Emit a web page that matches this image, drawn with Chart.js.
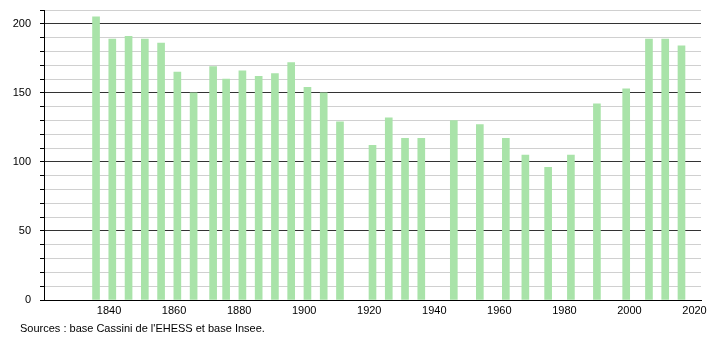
<!DOCTYPE html>
<html>
<head>
<meta charset="utf-8">
<script src="https://cdn.jsdelivr.net/npm/chart.js@4/dist/chart.umd.min.js"></script>
<style>
  html, body { margin: 0; padding: 0; background: #fff; }
  #wrap { width: 710px; height: 340px; position: relative; }
</style>
</head>
<body>
<div id="wrap"><canvas id="chart"></canvas></div>
<script>
// --- Données ---
const years = [1836, 1841, 1846, 1851, 1856, 1861, 1866, 1872, 1876, 1881, 1886, 1891, 1896, 1901, 1906, 1911,
               1921, 1926, 1931, 1936, 1946, 1954, 1962, 1968, 1975, 1982, 1990, 1999, 2006, 2011, 2016];
const population = [205, 189, 191, 189, 186, 165, 150, 169, 160, 166, 162, 164, 172, 154, 150, 129,
                     112, 132, 117, 117, 130, 127, 117, 105, 96, 105, 142, 153, 189, 189, 184];
const xTickYears = [1840, 1860, 1880, 1900, 1920, 1940, 1960, 1980, 2000, 2020];
const yLabels = [0, 50, 100, 150, 200];
const sourceText = "Sources : base Cassini de l'EHESS et base Insee.";

const points = years.map((y, i) => ({ x: y, y: population[i] }));

const footer = {
    id: 'footer',
    afterDraw(chart) {
        const ctx = chart.ctx;
        ctx.save();
        ctx.font = '11px "Liberation Sans", Arial, sans-serif';
        ctx.fillStyle = '#000';
        ctx.textBaseline = 'middle';
        ctx.fillText(sourceText, 20, 329);
        ctx.restore();
    }
};

new Chart(document.getElementById('chart').getContext('2d'), {
    type: 'bar',
    data: { datasets: [{ data: points, backgroundColor: '#a9e3a9', barThickness: 7, borderWidth: 0 }] },
    options: {
        responsive: true,
        maintainAspectRatio: false,
        animation: false,
        layout: { padding: { left: 0, right: 9, top: 10, bottom: 0 } },
        plugins: { legend: { display: false }, tooltip: { enabled: false } },
        scales: {
            x: {
                type: 'linear',
                offset: false,
                min: 1820,
                max: 2022,
                afterBuildTicks: (axis) => { axis.ticks = xTickYears.map(v => ({ value: v })); },
                afterFit: (axis) => { axis.height = 40; axis.paddingLeft = 0; axis.paddingRight = 0; },
                grid: { display: false, drawTicks: false, offset: false },
                border: { display: true, color: '#000', width: 1 },
                ticks: {
                    padding: 4,
                    color: '#000',
                    font: { family: '"Liberation Sans", Arial, sans-serif', size: 11 },
                    callback: (v) => String(v),
                    maxRotation: 0
                }
            },
            y: {
                min: 0,
                max: 210,
                afterFit: (axis) => { axis.width = 44; axis.paddingTop = 0; axis.paddingBottom = 0; },
                grid: {
                    color: (c) => (c.tick && c.tick.value % 50 === 0) ? '#333' : '#d0d0d0',
                    tickColor: '#000',
                    tickLength: 4,
                    lineWidth: 1
                },
                border: { display: true, color: '#000', width: 1 },
                ticks: {
                    stepSize: 10,
                    padding: 9,
                    color: '#000',
                    font: { family: '"Liberation Sans", Arial, sans-serif', size: 11 },
                    autoSkip: false,
                    callback: (v) => yLabels.includes(v) ? String(v) : ''
                }
            }
        }
    },
    plugins: [footer]
});
</script>
</body>
</html>
